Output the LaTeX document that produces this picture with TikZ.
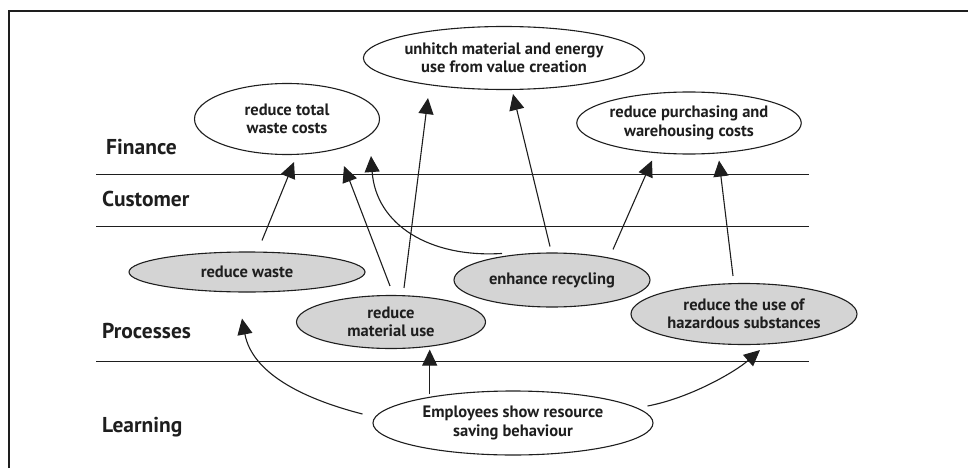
\documentclass[tikz,border=0pt]{standalone}
\usepackage{fontspec}
\setmainfont{PT Sans}
\usetikzlibrary{shapes.geometric,arrows.meta}
\definecolor{procfill}{RGB}{212,212,212}
\definecolor{ink}{RGB}{30,30,30}
\tikzset{
  goal/.style={ellipse,draw=ink,line width=1.1pt,inner sep=0pt,align=center,
    font=\fontsize{16.5}{18.5}\selectfont\bfseries,text=ink},
  proc/.style={goal,fill=procfill},
  rowlabel/.style={anchor=west,font=\fontsize{21.5}{23}\selectfont\bfseries,text=ink,inner sep=0pt},
  arr/.style={draw=ink,line width=1.1pt,-{Triangle[length=16pt,width=15pt]}},
  rule/.style={draw=ink,line width=1pt}
}
\begin{document}
\begin{tikzpicture}[x=1pt,y=-1pt]
\useasboundingbox (0,0) rectangle (968,468);
% frame
\draw[line width=1.3pt,ink] (9,468) -- (9,11) -- (968,11);
% lane rules
\draw[rule] (96,174) -- (809,174);
\draw[rule] (96,226) -- (809,226);
\draw[rule] (96,361) -- (809,361);
% row labels
\node[rowlabel] (lf) at (106,147) {Finance};
\node[rowlabel] (lc) at (102,199) {Customer};
\node[rowlabel] (lp) at (102,331) {Processes};
\node[rowlabel] (ll) at (102,427) {Learning};
% ellipses
\node[goal,minimum width=185pt,minimum height=71pt] (wc) at (287,119) {reduce total\\waste costs};
\node[goal,minimum width=281pt,minimum height=63pt] (un) at (504,58) {unhitch material and energy\\use from value creation};
\node[goal,minimum width=216pt,minimum height=62pt] (rp) at (689,123) {reduce purchasing and\\warehousing costs};
\node[proc,minimum width=236pt,minimum height=40pt] (rw) at (247,272) {reduce waste};
\node[proc,minimum width=189pt,minimum height=53pt] (rm) at (391,322) {reduce\\material use};
\node[proc,minimum width=196pt,minimum height=54pt] (er) at (552,280) {enhance recycling};
\node[proc,minimum width=226pt,minimum height=61pt] (hz) at (744,314) {reduce the use of\\hazardous substances};
\node[goal,fill=white,minimum width=280pt,minimum height=64pt] (em) at (513,423) {Employees show resource\\saving behaviour};
% connectors
\draw[arr] ([xshift=15pt,yshift=11pt]rw.north) -- ([xshift=7pt,yshift=-7pt]wc.south);
\draw[arr] ([xshift=-1pt,yshift=9pt]rm.north) -- ([xshift=57pt,yshift=-11pt]wc.south);
\draw[arr] ([xshift=13pt,yshift=7pt]rm.north) -- ([xshift=-76pt,yshift=-8pt]un.south);
\draw[arr] ([xshift=-50pt,yshift=-1pt]er.north) .. controls (430,258) and (376,225) .. ([xshift=84pt,yshift=-1pt]wc.south);
\draw[arr] ([xshift=-2pt,yshift=6pt]er.north) -- ([xshift=9pt,yshift=-4pt]un.south);
\draw[arr] ([xshift=61pt,yshift=3pt]er.north) -- ([xshift=-37pt,yshift=-6pt]rp.south);
\draw[arr] ([xshift=-11pt,yshift=7pt]hz.north) -- ([xshift=30pt,yshift=-6pt]rp.south);
\draw[arr] ([xshift=-83.3pt,yshift=-4pt]em.north) -- ([xshift=38.7pt,yshift=-0.5pt]rm.south);
\draw[arr] ([xshift=-10pt,yshift=9pt]em.west) .. controls (300,398) and (252,372) .. ([xshift=-5pt,yshift=-26pt]rw.south);
\draw[arr] ([xshift=-6pt,yshift=17pt]em.east) .. controls (690,398) and (735,372) .. ([xshift=16pt,yshift=-5pt]hz.south);
\end{tikzpicture}
\end{document}
